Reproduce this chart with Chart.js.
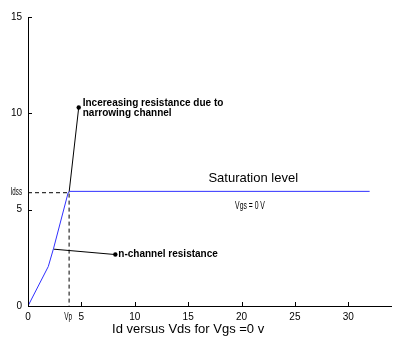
<!DOCTYPE html>
<html>
<head>
<meta charset="utf-8">
<script src="https://cdn.jsdelivr.net/npm/chart.js@4"></script>
<style>
  html, body { margin: 0; padding: 0; background: #fff; }
  #wrap { width: 395px; height: 344px; }
</style>
</head>
<body>
<div id="wrap"><canvas id="chart"></canvas></div>
<script>
// data
const vdsCurve = [0, 1.9, 2.4, 3.76, 3.9, 32];
const idCurve = [0, 2.05, 3.0, 5.88, 5.95, 5.95];
const vp = 3.85;
const idss = 5.88;
const leaderHighX = [3.85, 4.75];
const leaderHighY = [5.9, 10.3];
const leaderLowX = [2.4, 8.18];
const leaderLowY = [2.95, 2.67];
const xTickVals = [0, 5, 10, 15, 20, 25, 30];
const yTickVals = [0, 5, 10, 15];

const FONT = "'Liberation Sans', Arial, sans-serif";

function pts(xs, ys) {
  return xs.map((x, i) => ({ x: x, y: ys[i] }));
}

// squeezed text, the picture uses a condensed face for a few labels
function narrowText(ctx, txt, x, y, sx, align) {
  ctx.save();
  ctx.translate(x, y);
  ctx.scale(sx, 1);
  ctx.textAlign = align;
  ctx.fillText(txt, 0, 0);
  ctx.restore();
}

// inward tick marks + text annotations
const extras = {
  id: "extras",
  afterDraw(chart) {
    const ctx = chart.ctx;
    const xs = chart.scales.x;
    const ys = chart.scales.y;
    const area = chart.chartArea;
    ctx.save();
    ctx.strokeStyle = "#000";
    ctx.lineWidth = 1;
    ctx.beginPath();
    xTickVals.forEach(v => {
      const px = Math.round(xs.getPixelForValue(v)) + 0.5;
      ctx.moveTo(px, area.bottom);
      ctx.lineTo(px, area.bottom - 4);
    });
    yTickVals.forEach(v => {
      const py = Math.round(ys.getPixelForValue(v)) + 0.5;
      ctx.moveTo(area.left, py);
      ctx.lineTo(area.left + 4, py);
    });
    ctx.stroke();

    ctx.fillStyle = "#000";
    ctx.textBaseline = "middle";
    ctx.textAlign = "left";

    // special tick labels
    ctx.font = "10px " + FONT;
    narrowText(ctx, "Idss", area.left - 6, ys.getPixelForValue(idss), 0.62, "right");
    narrowText(ctx, "Vp", xs.getPixelForValue(vp) - 1, area.bottom + 11.5, 0.65, "center");

    ctx.font = "bold 10px " + FONT;
    let hx = xs.getPixelForValue(leaderHighX[1]) + 4;
    let hy = ys.getPixelForValue(leaderHighY[1]);
    ctx.fillText("Incereasing resistance due to", hx, hy - 4);
    ctx.fillText("narrowing channel", hx, hy + 6);
    let lx = xs.getPixelForValue(leaderLowX[1]) + 3;
    let ly = ys.getPixelForValue(leaderLowY[1]);
    ctx.fillText("n-channel resistance", lx, ly);

    ctx.font = "13px " + FONT;
    ctx.fillText("Saturation level", xs.getPixelForValue(16.9), ys.getPixelForValue(6.6));
    ctx.font = "11px " + FONT;
    narrowText(ctx, "Vgs = 0 V", xs.getPixelForValue(19.4), ys.getPixelForValue(5.2), 0.62, "left");

    // axis title
    ctx.font = "13px " + FONT;
    ctx.textAlign = "center";
    ctx.fillText("Id versus Vds for Vgs =0 v", xs.getPixelForValue(15), area.bottom + 23);
    ctx.restore();
  }
};

new Chart(document.getElementById("chart"), {
  type: "scatter",
  data: {
    datasets: [
      {
        data: pts([0, vp, vp], [idss, idss, 0]),
        showLine: true,
        borderColor: "#000",
        borderWidth: 1,
        borderDash: [4, 3],
        pointRadius: 0,
      },
      {
        data: pts(vdsCurve, idCurve),
        showLine: true,
        borderColor: "#3030ff",
        borderWidth: 1,
        pointRadius: 0,
      },
      {
        data: pts(leaderHighX, leaderHighY),
        showLine: true,
        borderColor: "#000",
        borderWidth: 1,
        pointRadius: [0, 2.2],
        pointBackgroundColor: "#000",
        pointBorderWidth: 0,
      },
      {
        data: pts(leaderLowX, leaderLowY),
        showLine: true,
        borderColor: "#000",
        borderWidth: 1,
        pointRadius: [0, 2.2],
        pointBackgroundColor: "#000",
        pointBorderWidth: 0,
      },
    ],
  },
  options: {
    responsive: true,
    maintainAspectRatio: false,
    animation: false,
    layout: { padding: { top: 17, right: 1, left: 0, bottom: 0 } },
    plugins: {
      legend: { display: false },
      tooltip: { enabled: false },
    },
    scales: {
      x: {
        type: "linear",
        min: 0,
        max: 34,
        grid: { display: true, drawOnChartArea: false, drawTicks: false },
        border: { color: "#000", width: 1 },
        afterBuildTicks: (axis) => {
          axis.ticks = [0, vp, ...xTickVals.slice(1)].map(v => ({ value: v }));
        },
        afterFit: (s) => { s.height = 38; },
        ticks: {
          autoSkip: false,
          maxRotation: 0,
          padding: 5,
          color: "#000",
          font: { family: FONT, size: 10 },
          callback: (v) => (v === vp ? "" : v),
        },
      },
      y: {
        min: 0,
        max: 15,
        grid: { display: true, drawOnChartArea: false, drawTicks: false },
        border: { color: "#000", width: 1 },
        afterBuildTicks: (axis) => {
          axis.ticks = [...yTickVals, idss].map(v => ({ value: v }));
        },
        afterFit: (s) => { s.width = 28; },
        ticks: {
          autoSkip: false,
          padding: 6,
          color: "#000",
          font: { family: FONT, size: 10 },
          callback: (v) => (v === idss ? "" : v),
        },
      },
    },
  },
  plugins: [extras],
});
</script>
</body>
</html>
